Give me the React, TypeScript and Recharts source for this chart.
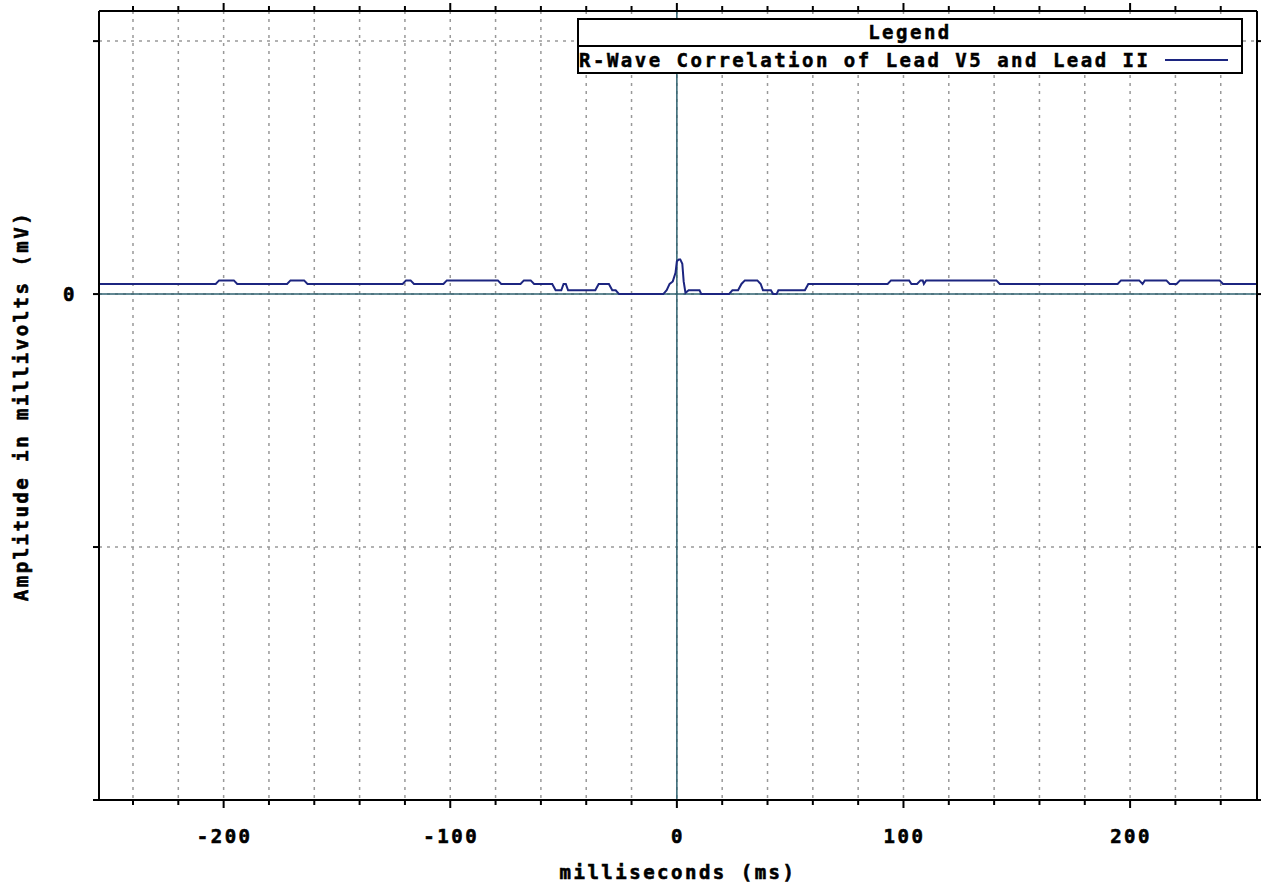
import { LineChart, Line, XAxis, YAxis, CartesianGrid, ReferenceLine, Legend } from "recharts";

// time axis in ms, amplitude in grid units (one dashed grid step = 1)
const timeTicks = [
  -240, -220, -200, -180, -160, -140, -120, -100, -80, -60, -40, -20, 0, 20, 40, 60, 80, 100, 120, 140, 160, 180,
  200, 220, 240,
];
const ampTicks = [-2, -1, 0, 1];
const seriesName = "R-Wave Correlation of Lead V5 and Lead II";

const ms = [
  -255, -203.5, -202, -195.5, -194, -172, -170.5, -164.5, -163, -121, -119.5, -117.5, -116, -103, -101.5, -79, -77.5,
  -69, -67.5, -64.5, -63, -55, -53.5, -51, -50, -49, -48, -36, -34.5, -30, -28.5, -27, -25.5, -6, -4.5, -3.2, -1.8,
  -0.6, 0, 0.9, 1.5, 2.4, 3, 3.8, 5.2, 10, 10.8, 23, 24.5, 27, 28.5, 30, 35.5, 37, 38, 41.5, 42.5, 44, 44.8, 56.5,
  58, 93, 94.5, 102.5, 103.5, 106, 107.5, 108.5, 109, 110, 141, 142.5, 194.5, 196, 204, 205.5, 206.5, 216, 217.5,
  220.5, 222, 239.5, 241, 256,
];
const amp = [
  0.04, 0.04, 0.054, 0.054, 0.04, 0.04, 0.054, 0.054, 0.04, 0.04, 0.054, 0.054, 0.04, 0.04, 0.054, 0.054, 0.04,
  0.04, 0.054, 0.054, 0.04, 0.04, 0.015, 0.015, 0.04, 0.04, 0.015, 0.015, 0.04, 0.04, 0.015, 0.015, 0, 0, 0.015,
  0.04, 0.05, 0.084, 0.13, 0.137, 0.137, 0.12, 0.05, 0.005, 0.015, 0.015, 0, 0, 0.015, 0.015, 0.04, 0.054, 0.054,
  0.04, 0.015, 0.015, 0, 0, 0.015, 0.015, 0.04, 0.04, 0.054, 0.054, 0.04, 0.04, 0.054, 0.054, 0.04, 0.054, 0.054,
  0.04, 0.04, 0.054, 0.054, 0.04, 0.054, 0.054, 0.04, 0.04, 0.054, 0.054, 0.04, 0.04,
];

const data = ms.map((t, i) => ({ t, v: amp[i] }));

const font = {
  fontFamily: "'DejaVu Sans Mono', monospace",
  fontWeight: "bold" as const,
  fontSize: 19,
  letterSpacing: "2.5px",
};
const textInk = { fill: "#000", stroke: "#000", strokeWidth: 0.6 };
const lineColor = "#1c2580";
const zeroColor = "#2f6270";

const BottomTick = (props: any) => {
  const { x, y, payload } = props;
  const major = payload.value % 100 === 0;
  return (
    <g>
      <line x1={x} x2={x} y1={y} y2={y + (major ? 8 : 5)} stroke="#000" strokeWidth={2} />
      {major && (
        <text x={x + 1} y={y + 36} textAnchor="middle" dominantBaseline="central" {...textInk} style={font}>
          {payload.value}
        </text>
      )}
    </g>
  );
};

const TopTick = (props: any) => {
  const { x, y, payload } = props;
  const major = payload.value % 100 === 0;
  return <line x1={x} x2={x} y1={y} y2={y - (major ? 8 : 5)} stroke="#000" strokeWidth={2} />;
};

const LeftTick = (props: any) => {
  const { x, y, payload } = props;
  return (
    <g>
      <line x1={x} x2={x - 6} y1={y} y2={y} stroke="#000" strokeWidth={2} />
      {payload.value === 0 && (
        <text x={70} y={y} textAnchor="middle" dominantBaseline="central" {...textInk} style={font}>
          0
        </text>
      )}
    </g>
  );
};

const RightTick = (props: any) => {
  const { x, y } = props;
  return <line x1={x} x2={x + 5} y1={y} y2={y} stroke="#000" strokeWidth={2} />;
};

const LegendBox = () => (
  <div
    style={{
      ...font,
      width: 666,
      border: "2px solid #000",
      background: "#fff",
      boxSizing: "border-box",
      lineHeight: "24px",
      WebkitTextStroke: "0.5px #000",
    }}
  >
    <div style={{ textAlign: "center", borderBottom: "2px solid #000", height: 25 }}>Legend</div>
    <div style={{ display: "flex", alignItems: "center", height: 25, whiteSpace: "nowrap" }}>
      <span>{seriesName}</span>
      <span
        style={{
          display: "inline-block",
          width: 63,
          height: 0,
          borderTop: `2px solid ${lineColor}`,
          marginLeft: 14,
          WebkitTextStroke: "0",
        }}
      />
    </div>
  </div>
);

export default function App() {
  return (
    <div style={{ position: "fixed", left: 0, top: 0, background: "#fff" }}>
      <LineChart width={1261} height={890} data={data} margin={{ top: 10, right: 3, bottom: 0, left: 0 }}>
        <CartesianGrid stroke="#999" strokeDasharray="3 5" strokeWidth={1.5} />
        <XAxis
          dataKey="t"
          type="number"
          domain={[-255, 256]}
          ticks={timeTicks}
          interval={0}
          height={90}
          tickSize={0}
          tickMargin={0}
          tickLine={false}
          tick={<BottomTick />}
          axisLine={{ stroke: "#000", strokeWidth: 2 }}
          allowDataOverflow
          label={{
            content: () => (
              <text x={678} y={872} textAnchor="middle" dominantBaseline="central" {...textInk} style={font}>
                milliseconds (ms)
              </text>
            ),
          }}
        />
        <XAxis
          xAxisId="top"
          orientation="top"
          dataKey="t"
          type="number"
          domain={[-255, 256]}
          ticks={timeTicks}
          interval={0}
          height={1}
          tickSize={0}
          tickMargin={0}
          tickLine={false}
          tick={<TopTick />}
          axisLine={{ stroke: "#000", strokeWidth: 2 }}
          allowDataOverflow
        />
        <YAxis
          type="number"
          domain={[-2, 1.119]}
          ticks={ampTicks}
          interval={0}
          width={99}
          tickSize={0}
          tickMargin={0}
          tickLine={false}
          tick={<LeftTick />}
          axisLine={{ stroke: "#000", strokeWidth: 2 }}
          allowDataOverflow
          label={{
            content: () => (
              <text
                x={21}
                y={406}
                transform="rotate(-90 21 406)"
                textAnchor="middle"
                dominantBaseline="central"
                {...textInk}
                style={font}
              >
                Amplitude in millivolts (mV)
              </text>
            ),
          }}
        />
        <YAxis
          yAxisId="right"
          orientation="right"
          type="number"
          domain={[-2, 1.119]}
          ticks={ampTicks}
          interval={0}
          width={1}
          tickSize={0}
          tickMargin={0}
          tickLine={false}
          tick={<RightTick />}
          axisLine={{ stroke: "#000", strokeWidth: 2 }}
          allowDataOverflow
        />
        <ReferenceLine y={0} stroke={zeroColor} strokeWidth={1.5} />
        <ReferenceLine x={0} stroke={zeroColor} strokeWidth={1.5} />
        {/* invisible copy so the top and right frame axes have a series bound to them */}
        <Line
          xAxisId="top"
          yAxisId="right"
          dataKey="v"
          legendType="none"
          stroke="none"
          dot={false}
          activeDot={false}
          isAnimationActive={false}
        />
        <Line
          dataKey="v"
          name={seriesName}
          type="linear"
          stroke={lineColor}
          strokeWidth={2}
          dot={false}
          isAnimationActive={false}
        />
        <Legend
          layout="horizontal"
          verticalAlign="middle"
          align="center"
          wrapperStyle={{ left: 577, top: 18, width: 666 }}
          content={<LegendBox />}
        />
      </LineChart>
    </div>
  );
}
